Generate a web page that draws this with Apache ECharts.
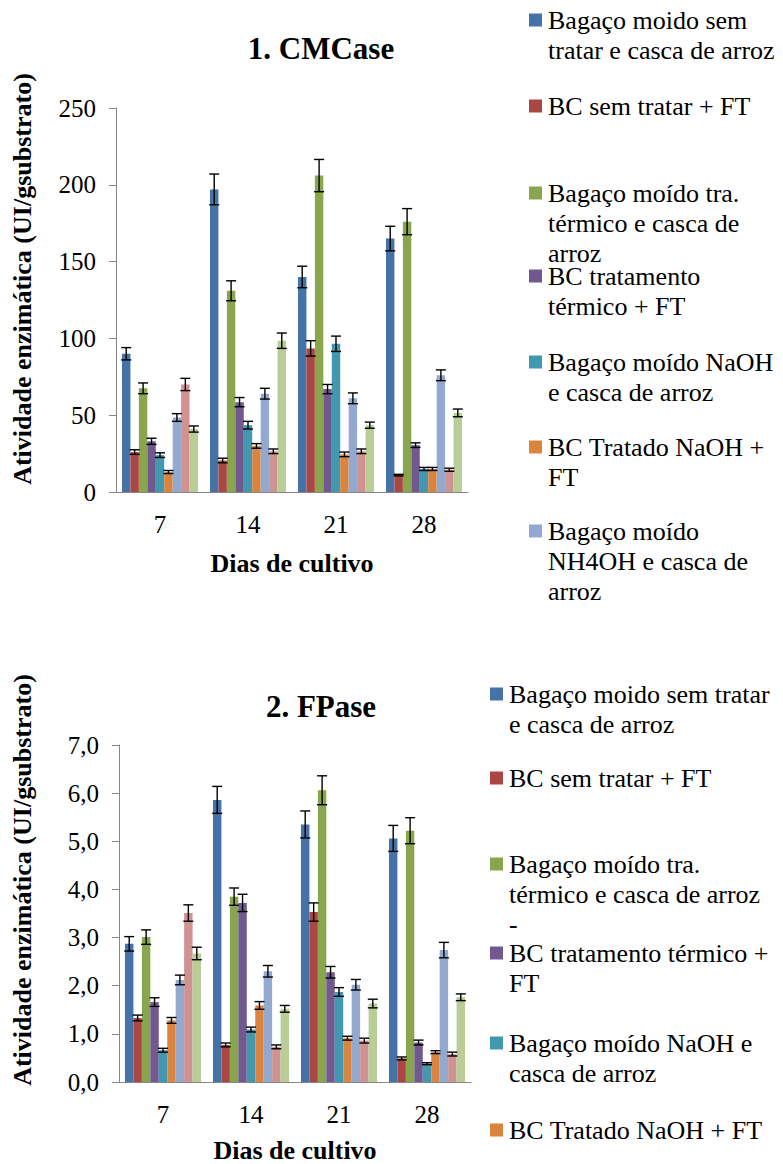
<!DOCTYPE html>
<html>
<head>
<meta charset="utf-8">
<script src="https://cdn.jsdelivr.net/npm/echarts@6/dist/echarts.min.js"></script>
<style>
  html, body { margin: 0; padding: 0; background: #fff; }
  #chart { width: 783px; height: 1164px; }
</style>
</head>
<body>
<div id="chart"></div>
<script>
var days = ['7', '14', '21', '28'];

var seriesNames = [
  'Bagaço moido sem tratar e casca de arroz',
  'BC sem tratar + FT',
  'Bagaço moído tra. térmico e casca de arroz',
  'BC tratamento térmico + FT',
  'Bagaço moído NaOH e casca de arroz',
  'BC Tratado NaOH + FT',
  'Bagaço moído NH4OH e casca de arroz',
  'BC tratado NH4OH + FT',
  'Bagaço moído e casca de arroz (controle)'
];

var colors = ['#4572A7', '#AA4643', '#89A54E', '#71588F', '#4198AF',
              '#DB843D', '#93A9CF', '#D09392', '#B9CD96'];

// 1. CMCase (UI/g substrato), one row per series, columns = days
var cmcaseValues = [
  [90, 197, 140, 165],
  [26, 20.5, 93.5, 11],
  [67.5, 131, 206, 176],
  [33, 58.5, 67, 30.5],
  [24, 43.5, 96.5, 15],
  [13, 30, 24.5, 15],
  [48.5, 64, 61, 76],
  [70, 26.5, 26.5, 14.5],
  [41, 98.5, 43.5, 51.5]
];
var cmcaseErrors = [
  [4, 10, 7, 8],
  [1.5, 1.5, 5, 0.5],
  [3.5, 6.5, 10.5, 8.5],
  [2, 3, 3, 1.5],
  [1.5, 2.5, 5, 1],
  [1, 1.5, 1.5, 1],
  [2.5, 3.5, 3.5, 3.5],
  [4, 1.5, 1.5, 1],
  [2, 5, 2, 2.5]
];

// 2. FPase
var fpaseValues = [
  [2.87, 5.86, 5.35, 5.06],
  [1.33, 0.77, 3.53, 0.49],
  [3.01, 3.85, 6.06, 5.22],
  [1.66, 3.72, 2.28, 0.82],
  [0.66, 1.09, 1.87, 0.38],
  [1.28, 1.59, 0.91, 0.62],
  [2.12, 2.30, 2.02, 2.74],
  [3.51, 0.73, 0.86, 0.58],
  [2.67, 1.52, 1.63, 1.76]
];
var fpaseErrors = [
  [0.15, 0.28, 0.28, 0.27],
  [0.06, 0.04, 0.19, 0.03],
  [0.15, 0.18, 0.30, 0.27],
  [0.09, 0.18, 0.12, 0.05],
  [0.04, 0.05, 0.09, 0.02],
  [0.06, 0.08, 0.04, 0.03],
  [0.10, 0.12, 0.11, 0.16],
  [0.17, 0.04, 0.05, 0.04],
  [0.13, 0.07, 0.09, 0.07]
];

// legend texts as they wrap in each panel
var legendTop = [
  'Bagaço moido sem\ntratar e casca de arroz',
  'BC sem tratar + FT',
  'Bagaço moído tra.\ntérmico e casca de\narroz',
  'BC tratamento\ntérmico + FT',
  'Bagaço moído NaOH\ne casca de arroz',
  'BC Tratado NaOH +\nFT',
  'Bagaço moído\nNH4OH e casca de\narroz'
];
var legendBottom = [
  'Bagaço moido sem tratar\ne casca de arroz',
  'BC sem tratar + FT',
  'Bagaço moído tra.\ntérmico e casca de arroz\n-',
  'BC tratamento térmico +\nFT',
  'Bagaço moído NaOH e\ncasca de arroz',
  'BC Tratado NaOH + FT'
];

var serif = 'Liberation Serif';
var catGap = 0.136;

function errorData(values, errors) {
  var out = [];
  values.forEach(function (row, s) {
    row.forEach(function (v, c) {
      out.push([c, s, v, errors[s][c]]);
    });
  });
  return out;
}

function renderError(params, api) {
  var cat = api.value(0), s = api.value(1), v = api.value(2), e = api.value(3);
  var band = api.size([1, 0])[0];
  var groupW = band * (1 - catGap);
  var barW = groupW / seriesNames.length;
  var center = api.coord([cat, v]);
  var x = center[0] - groupW / 2 + barW * (s + 0.5);
  var yHi = api.coord([cat, v + e])[1];
  var yLo = api.coord([cat, Math.max(v - e, 0)])[1];
  var cap = 5;
  var st = { stroke: '#000', lineWidth: 1.4 };
  return {
    type: 'group',
    children: [
      { type: 'line', shape: { x1: x, y1: yHi, x2: x, y2: yLo }, style: st },
      { type: 'line', shape: { x1: x - cap, y1: yHi, x2: x + cap, y2: yHi }, style: st },
      { type: 'line', shape: { x1: x - cap, y1: yLo, x2: x + cap, y2: yLo }, style: st }
    ]
  };
}

// each legend line is its own text element, 30px apart
function legendGraphics(labels, left, rows) {
  var g = [];
  labels.forEach(function (txt, i) {
    g.push({
      type: 'rect', x: left, y: rows[i] - 6.5,
      shape: { width: 13, height: 13 },
      style: { fill: colors[i] }
    });
    txt.split('\n').forEach(function (line, k) {
      g.push({
        type: 'text', x: left + 19, y: rows[i] + 30 * k,
        style: { text: line, fontFamily: serif, fontSize: 26, fontWeight: 'normal',
                 fill: '#000', align: 'left', verticalAlign: 'middle' }
      });
    });
  });
  return g;
}

var axisLineStyle = { color: '#868686', width: 1 };

function xAxisFor(gridIndex, gap) {
  return {
    type: 'category', gridIndex: gridIndex, data: days,
    axisLine: { lineStyle: axisLineStyle },
    axisTick: { show: false },
    axisLabel: { color: '#000', fontFamily: serif, fontSize: 25, margin: 20 },
    name: 'Dias de cultivo', nameLocation: 'middle', nameGap: gap,
    nameTextStyle: { color: '#000', fontFamily: serif, fontSize: 26, fontWeight: 'bold' }
  };
}

function yAxisFor(gridIndex, max, interval, fmt) {
  return {
    type: 'value', gridIndex: gridIndex, min: 0, max: max, interval: interval,
    axisLine: { show: true, lineStyle: axisLineStyle },
    axisTick: { show: true, inside: false, length: 7, lineStyle: axisLineStyle },
    splitLine: { show: false },
    axisLabel: { color: '#000', fontFamily: serif, fontSize: 25, margin: 20, formatter: fmt }
  };
}

var series = [];
[cmcaseValues, fpaseValues].forEach(function (vals, gi) {
  vals.forEach(function (row, s) {
    series.push({
      name: seriesNames[s], type: 'bar', xAxisIndex: gi, yAxisIndex: gi,
      data: row, barGap: '0%', barCategoryGap: (catGap * 100) + '%',
      itemStyle: { color: colors[s] }
    });
  });
});
series.push({
  type: 'custom', xAxisIndex: 0, yAxisIndex: 0, z: 10,
  renderItem: renderError, encode: { x: 0, y: 2 },
  data: errorData(cmcaseValues, cmcaseErrors)
});
series.push({
  type: 'custom', xAxisIndex: 1, yAxisIndex: 1, z: 10,
  renderItem: renderError, encode: { x: 0, y: 2 },
  data: errorData(fpaseValues, fpaseErrors)
});

var yName = 'Atividade enzimática (UI/gsubstrato)';
var yNameStyle = { text: yName, fontFamily: serif, fontSize: 26, fontWeight: 'bold',
                   fill: '#000', align: 'center', verticalAlign: 'middle' };
var graphics = []
  .concat(legendGraphics(legendTop, 529, [20, 106, 193, 276, 362, 447, 531]))
  .concat(legendGraphics(legendBottom, 490, [694, 778, 864, 953, 1043, 1130]))
  .concat([
    { type: 'text', x: 22, y: 279, rotation: Math.PI / 2, style: yNameStyle },
    { type: 'text', x: 22, y: 880, rotation: Math.PI / 2, style: yNameStyle }
  ]);

var chart = echarts.init(document.getElementById('chart'), null, { renderer: 'svg' });

var option = {
  animation: false,
  backgroundColor: '#fff',
  title: [
    { text: '1. CMCase', left: 316, top: 28, textAlign: 'center',
      textStyle: { fontFamily: serif, fontSize: 31, fontWeight: 'bold', color: '#000' } },
    { text: '2. FPase', left: 316, top: 686, textAlign: 'center',
      textStyle: { fontFamily: serif, fontSize: 31, fontWeight: 'bold', color: '#000' } }
  ],
  grid: [
    { left: 116, top: 108, width: 352, height: 384 },
    { left: 119, top: 745, width: 352, height: 339 }
  ],
  xAxis: [xAxisFor(0, 58), xAxisFor(1, 55)],
  yAxis: [
    yAxisFor(0, 250, 50),
    yAxisFor(1, 7, 1, function (v) { return v.toFixed(1).replace('.', ','); })
  ],
  graphic: graphics,
  series: series
};

chart.setOption(option);
</script>
</body>
</html>
